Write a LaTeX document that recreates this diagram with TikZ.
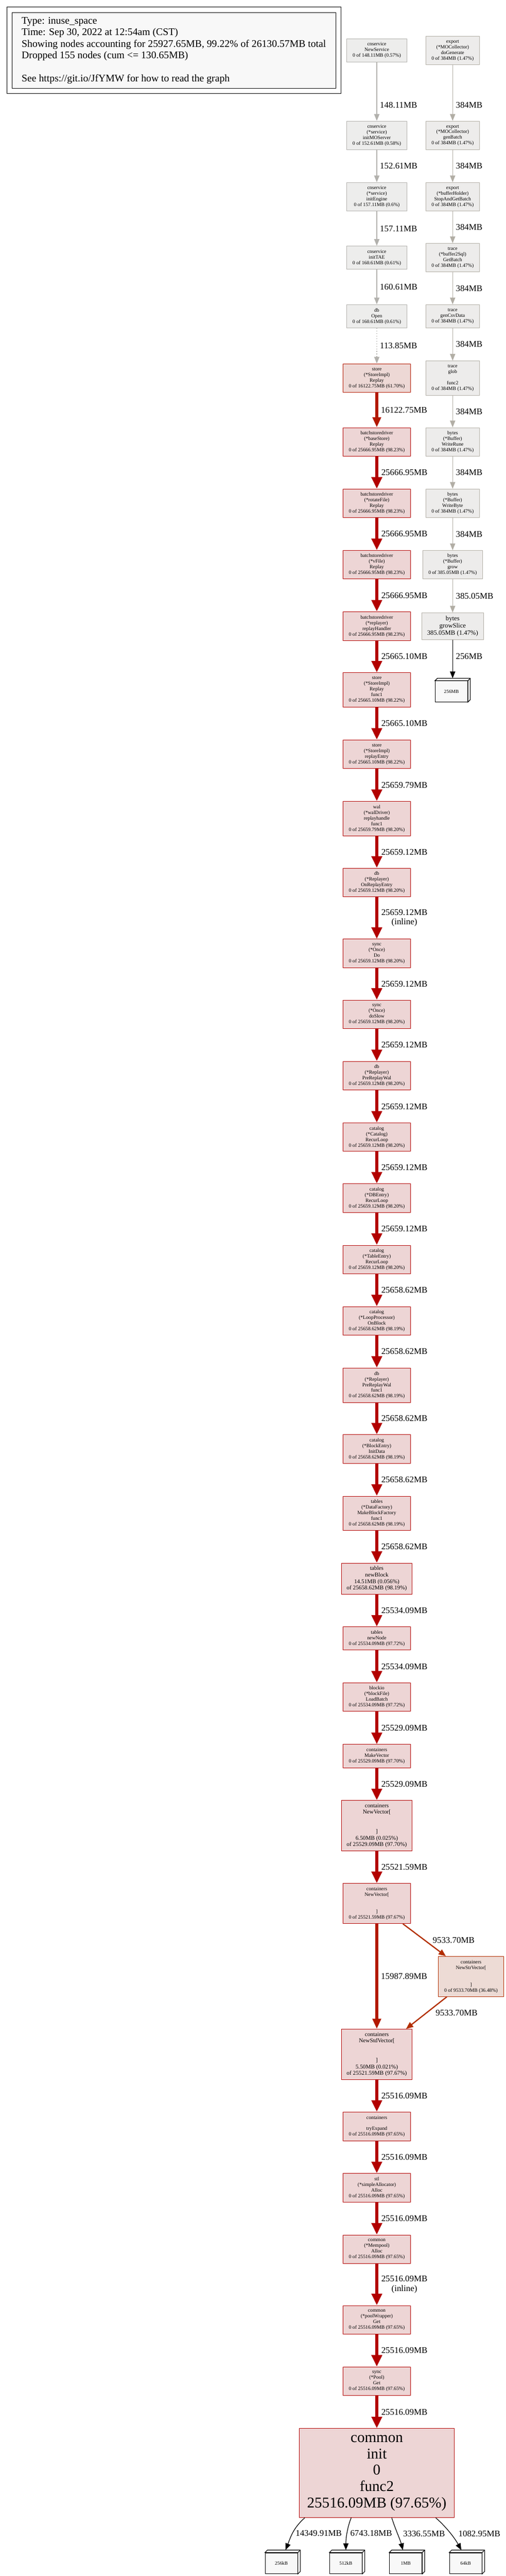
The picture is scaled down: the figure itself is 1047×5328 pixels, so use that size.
\documentclass[tikz,border=0pt]{standalone}
\usepackage{fontspec}
\setmainfont{Liberation Serif}
\usepackage{tikz}
\usetikzlibrary{arrows.meta}

\definecolor{hotln}{HTML}{B20100}
\definecolor{hotbg}{HTML}{EDD5D5}
\definecolor{warmln}{HTML}{B21800}
\definecolor{warmbg}{HTML}{EDD8D5}
\definecolor{orln}{HTML}{B22E00}
\definecolor{orbg}{HTML}{EDDBD5}
\definecolor{greyln}{HTML}{B2AEA5}
\definecolor{greybg}{HTML}{EDECEB}
\definecolor{paleln}{HTML}{B2B1AD}
\definecolor{palebg}{HTML}{EDEDEC}
\definecolor{legbg}{HTML}{F8F8F8}
\definecolor{leafbg}{HTML}{F8F8F8}

\tikzset{
  fn/.style={font=\fontsize{10.4}{11.7}\selectfont},
  fm/.style={font=\fontsize{12}{13.4}\selectfont},
  fbig/.style={font=\fontsize{31}{34}\selectfont},
  box/.style={draw, rectangle, align=center, line width=1pt, inner xsep=3pt, inner ysep=2pt, fn},
  hot/.style={box, draw=hotln, fill=hotbg, minimum width=139pt},
  warm/.style={box, draw=warmln, fill=warmbg, minimum width=139pt},
  orng/.style={box, draw=orln, fill=orbg, minimum width=135pt},
  cold/.style={box, draw=paleln, fill=palebg, minimum width=124pt},
  coldr/.style={box, draw=greyln, fill=greybg, minimum width=111pt},
  h3/.style={minimum height=48pt},
  h4/.style={minimum height=59pt},
  h5/.style={minimum height=71pt},
  h6/.style={minimum height=83pt},
  h7/.style={minimum height=104pt},
  leaf/.style={draw, line width=1.2pt, fill=leafbg, minimum width=67pt, minimum height=43pt, inner sep=0pt, font=\fontsize{10}{12}\selectfont},
  legend/.style={draw, line width=1pt, fill=legbg, align=left, minimum width=670pt, minimum height=157pt, inner xsep=12pt, font=\fontsize{21}{24}\selectfont},
  lbl/.style={font=\fontsize{18}{20}\selectfont, align=center, anchor=west, inner sep=6pt},
  gedge/.style={draw=paleln, line width=1.3pt, -{Triangle[length=14pt,width=11pt]}},
  gedger/.style={gedge, draw=greyln},
  hedge/.style={draw=hotln, line width=6.7pt, -{Triangle[length=24pt,width=21pt]}},
  wedge/.style={draw=warmln, line width=5.5pt, -{Triangle[length=21pt,width=17pt]}},
  oedge/.style={draw=orln, line width=2.5pt, -{Triangle[length=15pt,width=12pt]}},
  kedge/.style={draw=black, line width=1.3pt, -{Triangle[length=14pt,width=11pt]}}
}

\begin{document}
\begin{tikzpicture}[x=1pt,y=-1pt]
\useasboundingbox (0,0) rectangle (1047,5328);

% legend
\node[legend] (lgd) at (360,104.5) {Type: inuse\_space\\Time: Sep 30, 2022 at 12:54am (CST)\\Showing nodes accounting for 25927.65MB, 99.22\% of 26130.57MB total\\Dropped 155 nodes (cum <= 130.65MB)\\~\\See https://git.io/JfYMW for how to read the graph};
\draw[line width=1pt] ([shift={(-10,-11)}]lgd.north west) rectangle ([shift={(10,10)}]lgd.south east);

% left column
\node[cold,h3] (ns)   at (780,104) {cnservice\\NewService\\0 of 148.11MB (0.57\%)};
\node[cold,h4] (ims)  at (780,280) {cnservice\\(*service)\\initMOServer\\0 of 152.61MB (0.58\%)};
\node[cold,h4] (ieng) at (780,407) {cnservice\\(*service)\\initEngine\\0 of 157.11MB (0.6\%)};
\node[cold,h3] (itae) at (780,533) {cnservice\\initTAE\\0 of 160.61MB (0.61\%)};
\node[cold,h3] (dbo)  at (780,654) {db\\Open\\0 of 160.61MB (0.61\%)};
\node[warm,h4] (srp)  at (780,782) {store\\(*StoreImpl)\\Replay\\0 of 16122.75MB (61.70\%)};
\node[hot,h4] (bsr) at (780,914)  {batchstoredriver\\(*baseStore)\\Replay\\0 of 25666.95MB (98.23\%)};
\node[hot,h4] (rfr) at (780,1041) {batchstoredriver\\(*rotateFile)\\Replay\\0 of 25666.95MB (98.23\%)};
\node[hot,h4] (vfr) at (780,1168) {batchstoredriver\\(*vFile)\\Replay\\0 of 25666.95MB (98.23\%)};
\node[hot,h4] (rph) at (780,1295) {batchstoredriver\\(*replayer)\\replayHandler\\0 of 25666.95MB (98.23\%)};
\node[hot,h5] (srf) at (780,1427) {store\\(*StoreImpl)\\Replay\\func1\\0 of 25665.10MB (98.22\%)};
\node[hot,h4] (sre) at (780,1560) {store\\(*StoreImpl)\\replayEntry\\0 of 25665.10MB (98.22\%)};
\node[hot,h5] (wal) at (780,1693) {wal\\(*walDriver)\\replayhandle\\func1\\0 of 25659.79MB (98.20\%)};
\node[hot,h4] (ore) at (780,1825) {db\\(*Replayer)\\OnReplayEntry\\0 of 25659.12MB (98.20\%)};
\node[hot,h4] (odo) at (780,1972) {sync\\(*Once)\\Do\\0 of 25659.12MB (98.20\%)};
\node[hot,h4] (osl) at (780,2098) {sync\\(*Once)\\doSlow\\0 of 25659.12MB (98.20\%)};
\node[hot,h4] (prw) at (780,2225) {db\\(*Replayer)\\PreReplayWal\\0 of 25659.12MB (98.20\%)};
\node[hot,h4] (crl) at (780,2352) {catalog\\(*Catalog)\\RecurLoop\\0 of 25659.12MB (98.20\%)};
\node[hot,h4] (drl) at (780,2478) {catalog\\(*DBEntry)\\RecurLoop\\0 of 25659.12MB (98.20\%)};
\node[hot,h4] (trl) at (780,2605) {catalog\\(*TableEntry)\\RecurLoop\\0 of 25659.12MB (98.20\%)};
\node[hot,h4] (lob) at (780,2732) {catalog\\(*LoopProcessor)\\OnBlock\\0 of 25658.62MB (98.19\%)};
\node[hot,h5] (prf) at (780,2865) {db\\(*Replayer)\\PreReplayWal\\func1\\0 of 25658.62MB (98.19\%)};
\node[hot,h4] (bid) at (780,2997) {catalog\\(*BlockEntry)\\InitData\\0 of 25658.62MB (98.19\%)};
\node[hot,h5] (mbf) at (780,3130) {tables\\(*DataFactory)\\MakeBlockFactory\\func1\\0 of 25658.62MB (98.19\%)};
\node[hot,fm,minimum width=146pt,minimum height=64pt] (nbl) at (780,3265) {tables\\newBlock\\14.51MB (0.056\%)\\of 25658.62MB (98.19\%)};
\node[hot,h3] (nnd) at (780,3389) {tables\\newNode\\0 of 25534.09MB (97.72\%)};
\node[hot,h4] (lbt) at (780,3510) {blockio\\(*blockFile)\\LoadBatch\\0 of 25534.09MB (97.72\%)};
\node[hot,h3] (mkv) at (780,3632) {containers\\MakeVector\\0 of 25529.09MB (97.70\%)};
\node[hot,fm,h7,minimum width=146pt] (nva) at (780,3776) {containers\\NewVector[\\~\\~\\]\\6.50MB (0.025\%)\\of 25529.09MB (97.70\%)};
\node[hot,h6] (nvb) at (780,3937) {containers\\NewVector[\\~\\~\\]\\0 of 25521.59MB (97.67\%)};
\node[orng,h6] (nsv) at (975,4088) {containers\\NewStrVector[\\~\\~\\]\\0 of 9533.70MB (36.48\%)};
\node[hot,fm,h7,minimum width=146pt] (nsd) at (780,4249) {containers\\NewStdVector[\\~\\~\\]\\5.50MB (0.021\%)\\of 25521.59MB (97.67\%)};
\node[hot,h4] (tex) at (780,4398) {containers\\~\\tryExpand\\0 of 25516.09MB (97.65\%)};
\node[hot,h4] (sal) at (780,4525) {stl\\(*simpleAllocator)\\Alloc\\0 of 25516.09MB (97.65\%)};
\node[hot,h4] (mpa) at (780,4652) {common\\(*Mempool)\\Alloc\\0 of 25516.09MB (97.65\%)};
\node[hot,h4] (pwg) at (780,4798) {common\\(*poolWrapper)\\Get\\0 of 25516.09MB (97.65\%)};
\node[hot,h4] (ppg) at (780,4925) {sync\\(*Pool)\\Get\\0 of 25516.09MB (97.65\%)};
\node[hot,fbig,minimum width=320pt,minimum height=184pt] (cmn) at (780,5115) {common\\init\\0\\func2\\25516.09MB (97.65\%)};

% right column
\node[coldr,h4] (dgn) at (937,104.5) {export\\(*MOCollector)\\doGenerate\\0 of 384MB (1.47\%)};
\node[coldr,h4] (gbt) at (937,280) {export\\(*MOCollector)\\genBatch\\0 of 384MB (1.47\%)};
\node[coldr,h4] (sgb) at (937,407) {export\\(*bufferHolder)\\StopAndGetBatch\\0 of 384MB (1.47\%)};
\node[coldr,h4] (gb2) at (937,533) {trace\\(*buffer2Sql)\\GetBatch\\0 of 384MB (1.47\%)};
\node[coldr,h3] (gcd) at (937,654) {trace\\genCsvData\\0 of 384MB (1.47\%)};
\node[coldr,h5] (glb) at (937,782) {trace\\glob\\~\\func2\\0 of 384MB (1.47\%)};
\node[coldr,h4] (wrn) at (937,914) {bytes\\(*Buffer)\\WriteRune\\0 of 384MB (1.47\%)};
\node[coldr,h4] (wby) at (937,1041) {bytes\\(*Buffer)\\WriteByte\\0 of 384MB (1.47\%)};
\node[coldr,h4,minimum width=124pt] (grw) at (937,1168) {bytes\\(*Buffer)\\grow\\0 of 385.05MB (1.47\%)};
\node[coldr,minimum width=128pt,minimum height=55pt,font=\fontsize{13.5}{14.8}\selectfont] (gsl) at (937,1295) {bytes\\growSlice\\385.05MB (1.47\%)};

% leaf boxes
\node[leaf] (b256)  at (934.5,1430) {256MB};
\node[leaf] (l256k) at (582.5,5301.5) {256kB};
\node[leaf] (l512k) at (716,5301.5) {512kB};
\node[leaf] (l1m)   at (840,5301.5) {1MB};
\node[leaf] (l64k)  at (964,5301.5) {64kB};
\foreach \n in {b256,l256k,l512k,l1m,l64k} {
  \draw[line width=1.2pt, fill=leafbg] (\n.north west) -- ++(5,-5) -| ([shift={(5,-5)}]\n.south east) -- (\n.south east) -- (\n.north east) -- cycle;
  \draw[line width=1.2pt] (\n.north east) -- ++(5,-5);
}

% grey edges
\path (ns) edge[gedge] node[lbl,pos=.73] {148.11MB} (ims)
      (ims) edge[gedge] node[lbl] {152.61MB} (ieng)
      (ieng) edge[gedge] node[lbl] {157.11MB} (itae)
      (itae) edge[gedge] node[lbl] {160.61MB} (dbo)
      (dbo) edge[gedge, dash pattern=on 1.3pt off 4pt] node[lbl] {113.85MB} (srp);
\path (dgn) edge[gedger] node[lbl,pos=.72] {384MB} (gbt)
      (gbt) edge[gedger] node[lbl] {384MB} (sgb)
      (sgb) edge[gedger] node[lbl] {384MB} (gb2)
      (gb2) edge[gedger] node[lbl] {384MB} (gcd)
      (gcd) edge[gedger] node[lbl] {384MB} (glb)
      (glb) edge[gedger] node[lbl] {384MB} (wrn)
      (wrn) edge[gedger] node[lbl] {384MB} (wby)
      (wby) edge[gedger] node[lbl] {384MB} (grw)
      (grw) edge[gedger] node[lbl] {385.05MB} (gsl);
\draw[kedge] (gsl) -- node[lbl,pos=.43] {256MB} ([shift={(2.5,-5)}]b256.north);

% hot path
\path (srp) edge[wedge] node[lbl] {16122.75MB} (bsr)
      (bsr) edge[hedge] node[lbl] {25666.95MB} (rfr)
      (rfr) edge[hedge] node[lbl] {25666.95MB} (vfr)
      (vfr) edge[hedge] node[lbl] {25666.95MB} (rph)
      (rph) edge[hedge] node[lbl] {25665.10MB} (srf)
      (srf) edge[hedge] node[lbl] {25665.10MB} (sre)
      (sre) edge[hedge] node[lbl] {25659.79MB} (wal)
      (wal) edge[hedge] node[lbl] {25659.12MB} (ore)
      (ore) edge[hedge] node[lbl] {25659.12MB\\(inline)} (odo)
      (odo) edge[hedge] node[lbl] {25659.12MB} (osl)
      (osl) edge[hedge] node[lbl] {25659.12MB} (prw)
      (prw) edge[hedge] node[lbl] {25659.12MB} (crl)
      (crl) edge[hedge] node[lbl] {25659.12MB} (drl)
      (drl) edge[hedge] node[lbl] {25659.12MB} (trl)
      (trl) edge[hedge] node[lbl] {25658.62MB} (lob)
      (lob) edge[hedge] node[lbl] {25658.62MB} (prf)
      (prf) edge[hedge] node[lbl] {25658.62MB} (bid)
      (bid) edge[hedge] node[lbl] {25658.62MB} (mbf)
      (mbf) edge[hedge] node[lbl] {25658.62MB} (nbl)
      (nbl) edge[hedge] node[lbl] {25534.09MB} (nnd)
      (nnd) edge[hedge] node[lbl] {25534.09MB} (lbt)
      (lbt) edge[hedge] node[lbl] {25529.09MB} (mkv)
      (mkv) edge[hedge] node[lbl] {25529.09MB} (nva)
      (nva) edge[hedge] node[lbl] {25521.59MB} (nvb)
      (nvb) edge[wedge] node[lbl] {15987.89MB} (nsd)
      (nsd) edge[hedge] node[lbl] {25516.09MB} (tex)
      (tex) edge[hedge] node[lbl] {25516.09MB} (sal)
      (sal) edge[hedge] node[lbl] {25516.09MB} (mpa)
      (mpa) edge[hedge] node[lbl] {25516.09MB\\(inline)} (pwg)
      (pwg) edge[hedge] node[lbl] {25516.09MB} (ppg)
      (ppg) edge[hedge] node[lbl] {25516.09MB} (cmn);
\draw[oedge] ([shift={(-16,0)}]nvb.south east) -- node[lbl,xshift=10pt] {9533.70MB} ([shift={(16,0)}]nsv.north west);
\draw[oedge] ([shift={(18,0)}]nsv.south west) -- node[lbl,xshift=12pt] {9533.70MB} ([shift={(-13,0)}]nsd.north east);

% leaf edges
\draw[kedge] ([shift={(-149,0)}]cmn.south) .. controls +(-25,22) and +(10,-25) .. node[lbl] {14349.91MB} ([shift={(8.5,-5)}]l256k.north);
\draw[kedge] ([shift={(-53,0)}]cmn.south) .. controls +(-8,20) and +(0,-25) .. node[lbl] {6743.18MB} ([shift={(0,-5)}]l512k.north);
\draw[kedge] ([shift={(31,0)}]cmn.south) .. controls +(6,20) and +(-5,-20) .. node[lbl,xshift=5pt] {3336.55MB} ([shift={(-6,-5)}]l1m.north);
\draw[kedge] ([shift={(122,0)}]cmn.south) .. controls +(25,22) and +(-12,-22) .. node[lbl,xshift=9pt] {1082.95MB} ([shift={(-9,-5)}]l64k.north);
\end{tikzpicture}
\end{document}
